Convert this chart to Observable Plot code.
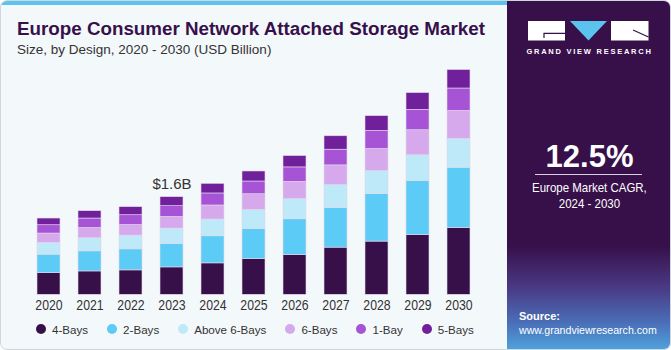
<!DOCTYPE html>
<html>
<head>
<meta charset="utf-8">
<script src="https://cdn.jsdelivr.net/npm/d3@7"></script>
<script src="https://cdn.jsdelivr.net/npm/@observablehq/plot@0.6"></script>
<style>
  html, body { margin: 0; padding: 0; background: #ffffff; }
  #card { position: absolute; left: 0; top: 0; width: 669px; height: 348px; border: 1px solid #cfd6dc;
          border-radius: 7px; overflow: hidden; background: #f3f8fb; font-family: "Liberation Sans", Arial, sans-serif; }
  #strip { position: absolute; left: 0; top: 0; width: 510px; height: 4px; background: #5cc3ee; }
  #title { position: absolute; left: 16px; top: 19px; font-size: 18.8px; line-height: 18.8px; font-weight: bold; color: #37104a; white-space: nowrap; }
  #subtitle { position: absolute; left: 16px; top: 41.5px; font-size: 13.5px; line-height: 13.5px; color: #333; white-space: nowrap; }
  #chart { position: absolute; left: -1px; top: 59px; }
  #legend { position: absolute; left: 0; top: 320px; height: 16px; display: flex; align-items: center; padding-left: 35px; font-size: 11.6px; color: #333; }
  .item { display: flex; align-items: center; margin-right: 19px; white-space: nowrap; }
  .dot { width: 10px; height: 10px; border-radius: 50%; margin-right: 6px; }
  #panel { position: absolute; left: 506px; top: 0; width: 165px; height: 350px;
           background: linear-gradient(to bottom, #37104a 0%, #37104a 70%, #4a3a85 82%, #4a6fb8 92%, #4fa6de 100%); color: #fff; }
  #logo { position: absolute; left: 0; top: 0; }
  #gvr { position: absolute; left: 0; width: 165px; top: 46px; text-align: center; font-size: 7.5px; font-weight: bold; letter-spacing: 1.75px; color: #fff; }
  #cagr { position: absolute; left: 0; width: 165px; top: 140px; text-align: center; font-size: 31px; line-height: 31px; font-weight: bold; }
  #rule { position: absolute; left: 28px; width: 107px; top: 172.5px; height: 1px; background: #d8d0e0; }
  #cagrtxt { position: absolute; left: 0; width: 165px; top: 179px; text-align: center; font-size: 13.5px; line-height: 16px; transform: scaleX(0.85); transform-origin: 82px 0; }
  #source { position: absolute; left: 12px; top: 309px; font-size: 11px; line-height: 13.5px; }
  #url { font-size: 10.6px; }
</style>
</head>
<body>
<div id="card">
  <div id="strip"></div>
  <div id="title">Europe Consumer Network Attached Storage Market</div>
  <div id="subtitle">Size, by Design, 2020 - 2030 (USD Billion)</div>
  <div id="chart"></div>
  <div id="legend"></div>
  <div id="panel">
    <svg id="logo" width="165" height="45">
      <rect x="21" y="20" width="37" height="19.5" fill="#fff"/>
      <path d="M37 37 V32.3 H58" stroke="#37104a" stroke-width="1.2" fill="none"/>
      <path d="M63 20 H100 L81.5 39.5 Z" fill="#5cc3ee"/>
      <rect x="104" y="20" width="37.5" height="19.5" fill="#fff"/>
      <path d="M126 29 L141.5 36" stroke="#37104a" stroke-width="1.2" fill="none"/>
    </svg>
    <div id="gvr">GRAND VIEW RESEARCH</div>
    <div id="cagr">12.5%</div>
    <div id="rule"></div>
    <div id="cagrtxt">Europe Market CAGR,<br>2024 - 2030</div>
    <div id="source"><b>Source:</b><br><span id="url">www.grandviewresearch.com</span></div>
  </div>
</div>
<script>
const years = ["2020","2021","2022","2023","2024","2025","2026","2027","2028","2029","2030"];
const seriesNames = ["4-Bays", "2-Bays", "Above 6-Bays", "6-Bays", "1-Bay", "5-Bays"];
const seriesColors = ["#37104a", "#5ccbf6", "#bde9f8", "#d5a9ec", "#a653d6", "#6f209a"];
const fourBays  = [0.355, 0.383, 0.400, 0.449, 0.515, 0.585, 0.651, 0.773, 0.872, 0.980, 1.095];
const twoBays   = [0.303, 0.329, 0.345, 0.383, 0.444, 0.493, 0.587, 0.651, 0.783, 0.883, 0.987];
const above6Bays= [0.191, 0.214, 0.225, 0.253, 0.275, 0.312, 0.329, 0.373, 0.373, 0.423, 0.472];
const sixBays   = [0.155, 0.169, 0.174, 0.191, 0.230, 0.258, 0.284, 0.324, 0.362, 0.411, 0.460];
const oneBay    = [0.136, 0.155, 0.160, 0.176, 0.197, 0.209, 0.237, 0.257, 0.296, 0.334, 0.367];
const fiveBays  = [0.110, 0.120, 0.132, 0.148, 0.158, 0.164, 0.186, 0.220, 0.242, 0.275, 0.303];
const annotYear = "2023";
const annotText = "$1.6B";

const seriesValues = [fourBays, twoBays, above6Bays, sixBays, oneBay, fiveBays];
const rows = [];
seriesNames.forEach((s, i) => years.forEach((y, j) => rows.push({year: y, series: s, value: seriesValues[i][j]})));
const totals = years.map((y, j) => ({year: y, total: d3.sum(seriesValues, v => v[j])}));
const annot = totals.filter(d => d.year === annotYear);

const chart = Plot.plot({
  width: 510,
  height: 253,
  marginLeft: 14,
  marginRight: 16,
  marginTop: 0,
  marginBottom: 18.7,
  style: {background: "transparent", fontFamily: "'Liberation Sans', Arial, sans-serif", color: "#333"},
  x: {domain: years, paddingInner: 0.43, paddingOuter: 0.43, label: null, tickSize: 0, tickPadding: 4.4},
  y: {domain: [0, 3.84], axis: null},
  color: {domain: seriesNames, range: seriesColors},
  marks: [
    Plot.barY(rows, {x: "year", y: "value", fill: "series", stroke: "#e4d9ec", strokeWidth: 0.6}),
    Plot.text(annot, {x: "year", y: "total", text: () => annotText, lineAnchor: "bottom", dy: -8, fontSize: 15, fill: "#333"})
  ]
});
chart.querySelectorAll('g[aria-label="x-axis tick label"]').forEach(g => {
  g.setAttribute("font-size", "14.8");
  g.querySelectorAll("text").forEach(t => {
    const tr = t.getAttribute("transform") || "";
    t.setAttribute("transform", tr + " scale(0.83,1)");
  });
});
document.getElementById("chart").appendChild(chart);

const legend = document.getElementById("legend");
seriesNames.forEach((s, i) => {
  const it = document.createElement("div");
  it.className = "item";
  const dot = document.createElement("span");
  dot.className = "dot";
  dot.style.background = seriesColors[i];
  it.appendChild(dot);
  it.appendChild(document.createTextNode(s));
  legend.appendChild(it);
});
</script>
</body>
</html>
